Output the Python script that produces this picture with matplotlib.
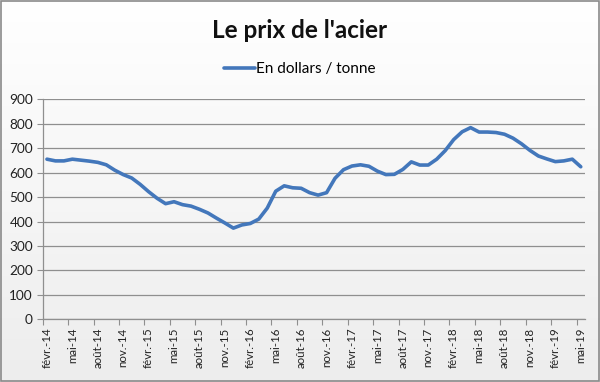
import numpy as np
import pandas as pd
import matplotlib
matplotlib.use("Agg")
import matplotlib.pyplot as plt
from matplotlib.colors import LinearSegmentedColormap
from matplotlib.patches import Rectangle

# ── data: monthly steel price, févr. 2014 → mai 2019 ──
month_names = ["janv.", "févr.", "mars", "avr.", "mai", "juin",
               "juil.", "août", "sept.", "oct.", "nov.", "déc."]
dates = pd.date_range("2014-02-01", "2019-05-01", freq="MS")
categories = [f"{month_names[d.month - 1]}-{d.year % 100:02d}" for d in dates]

prices = [655, 648, 648, 655, 651, 647, 642, 632, 610, 592, 578, 552,
          522, 495, 473, 481, 469, 463, 450, 435, 414, 394, 373, 386,
          392, 410, 455, 524, 546, 538, 536, 518, 508, 518, 577, 612,
          627, 632, 626, 606, 592, 593, 613, 644, 631, 631, 655, 690,
          735, 767, 784, 766, 766, 764, 757, 741, 718, 691, 668, 656,
          645, 648, 655, 624]

series_label = "En dollars / tonne"
title = "Le prix de l'acier"
label_every = 3

plt.rcParams["font.family"] = ["Lato", "DejaVu Sans"]

fig = plt.figure(figsize=(6, 3.82), dpi=100)

# soft Excel-like background gradient + frame
bg = fig.add_axes([0, 0, 1, 1], zorder=-5)
cmap = LinearSegmentedColormap.from_list("bg", ["#ffffff", "#ededed"])
bg.imshow(np.linspace(0, 1, 256)[:, None], cmap=cmap, aspect="auto",
          extent=(0, 1, 0, 1))
bg.add_patch(Rectangle((0.001, 0.002), 0.997, 0.995, fill=False,
                       edgecolor="#8a8a8a", lw=1.2, transform=bg.transAxes))
bg.set_xlim(0, 1)
bg.set_ylim(0, 1)
bg.axis("off")

ax = fig.add_axes([0.0712, 0.1641, 0.9038, 0.576])
ax.set_facecolor("none")

x = np.arange(len(prices)) + 0.5
ax.plot(x, prices, color="#4377bb", lw=2.6, solid_capstyle="round",
        solid_joinstyle="round", label=series_label, zorder=3)

ax.set_ylim(0, 900)
ax.set_yticks(np.arange(0, 901, 100))
ax.yaxis.grid(True, color="#8f8f8f", lw=0.9)
ax.set_axisbelow(True)

ax.set_xlim(0, len(prices))
ax.set_xticks(np.arange(0, len(prices), label_every))
ax.set_xticklabels([])
ax.set_xticks(np.arange(0, len(prices), label_every) + 0.5, minor=True)
ax.set_xticklabels(categories[::label_every], minor=True, rotation=90,
                   fontsize=8.3, color="#222222")
ax.tick_params(axis="x", which="minor", length=0, pad=6)
ax.tick_params(axis="x", which="major", length=4, color="#8f8f8f")
ax.tick_params(axis="y", length=4, color="#8f8f8f", labelsize=9.8,
               labelcolor="#222222", pad=3)

for side in ("top", "right"):
    ax.spines[side].set_visible(False)
for side in ("left", "bottom"):
    ax.spines[side].set_color("#8f8f8f")
    ax.spines[side].set_linewidth(0.9)

fig.text(0.5, 1 - 30 / 382, title, ha="center", va="center",
         fontsize=17.5, fontweight="bold", color="#111111")
fig.legend(loc="center", bbox_to_anchor=(0.5, 1 - 69 / 382), frameon=False,
           fontsize=11, handlelength=2.0, handletextpad=0.1)

fig.savefig("out.png", dpi=100)
